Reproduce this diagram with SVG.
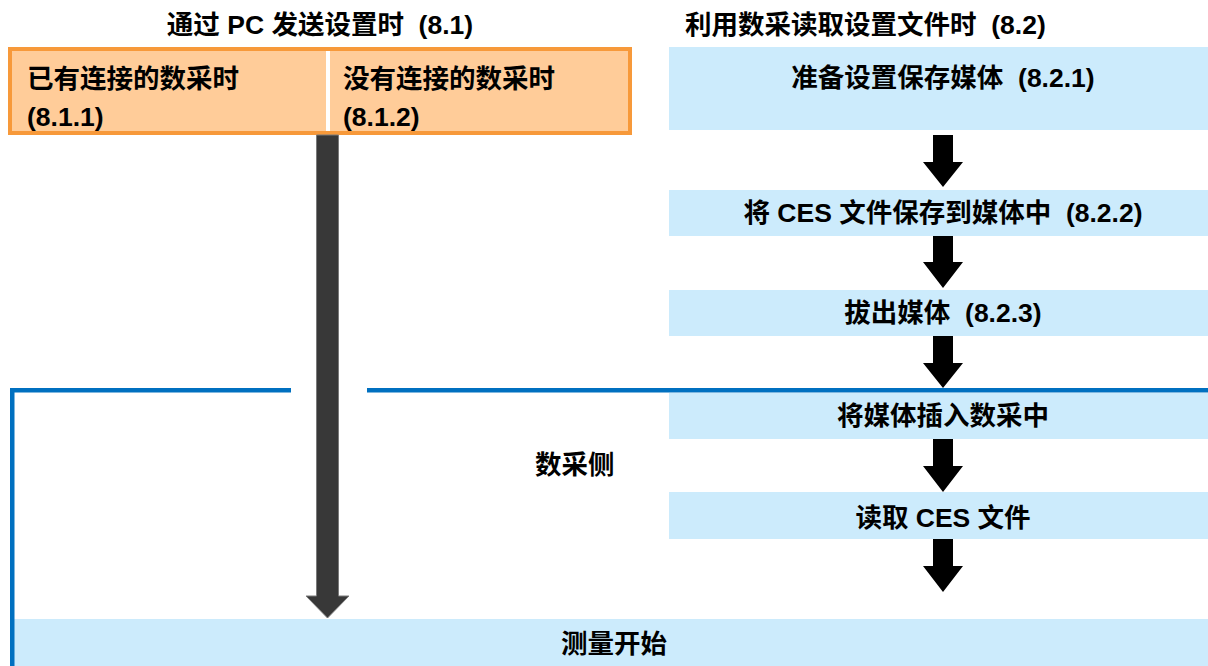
<svg xmlns="http://www.w3.org/2000/svg" width="1208" height="666" viewBox="0 0 1208 666">
<style>
text{font-family:"Liberation Sans","Noto Sans CJK SC",sans-serif;font-weight:bold;font-size:26.5px;fill:#000;white-space:pre}
.mid{text-anchor:middle}
.blue{fill:#CCEBFC}
.bline{fill:#0070C0}
.arr{fill:#000}
</style>
<rect width="1208" height="666" fill="#fff"/>
<g id="title1"><text class="mid" x="320" y="34" xml:space="preserve">通过 PC 发送设置时  (8.1)</text></g>
<g id="title2"><text x="685" y="34" xml:space="preserve">利用数采读取设置文件时  (8.2)</text></g>
<g id="pc-box">
<rect x="10" y="49" width="620" height="84" fill="#FFCC99" stroke="#F7993A" stroke-width="4"/>
<rect x="326" y="51" width="4" height="80" fill="#fff"/>
</g>
<g id="n811"><text x="27" y="88">已有连接的数采时</text><text x="27" y="126">(8.1.1)</text></g>
<g id="n812"><text x="343" y="88">没有连接的数采时</text><text x="343" y="126">(8.1.2)</text></g>
<g id="n821"><rect class="blue" x="669" y="47" width="539" height="83"/><text class="mid" x="943" y="87" xml:space="preserve">准备设置保存媒体  (8.2.1)</text></g>
<g id="n822"><rect class="blue" x="669" y="190" width="539" height="46"/><text class="mid" x="943" y="222" xml:space="preserve">将 CES 文件保存到媒体中  (8.2.2)</text></g>
<g id="n823"><rect class="blue" x="669" y="290" width="539" height="46"/><text class="mid" x="943" y="322" xml:space="preserve">拔出媒体  (8.2.3)</text></g>
<g id="n824"><rect class="blue" x="669" y="393" width="539" height="46"/><text class="mid" x="943" y="425">将媒体插入数采中</text></g>
<g id="n825"><rect class="blue" x="669" y="492" width="539" height="47"/><text class="mid" x="943" y="527">读取 CES 文件</text></g>
<g id="nstart"><rect class="blue" x="10" y="619" width="1198" height="47"/><text class="mid" x="614" y="653">测量开始</text></g>
<g id="device-side">
<rect class="bline" x="10" y="388" width="281" height="4.5"/>
<rect class="bline" x="367" y="388" width="841" height="4.5"/>
<rect class="bline" x="10" y="388" width="4.5" height="278"/>
<text x="535" y="474">数采侧</text>
</g>
<g id="connectors">
<path d="M316.5 135 H338.5 V596 H349 L327.5 618 L306 596 H316.5 Z" fill="#383838" stroke="#7a7a7a" stroke-width="1"/>
<path class="arr" d="M933 135 H953 V162 H963 L943 187 L923 162 H933 Z"/>
<path class="arr" d="M933 236 H953 V262 H963 L943 288 L923 262 H933 Z"/>
<path class="arr" d="M933 336 H953 V363 H963 L943 388 L923 363 H933 Z"/>
<path class="arr" d="M933 439 H953 V466 H963 L943 492 L923 466 H933 Z"/>
<path class="arr" d="M933 539 H953 V566 H963 L943 592 L923 566 H933 Z"/>
</g>
</svg>
